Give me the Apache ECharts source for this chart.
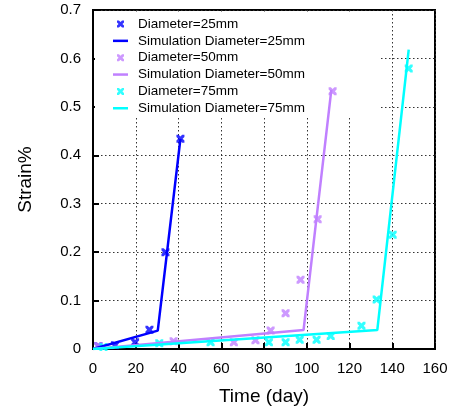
<!DOCTYPE html>
<html>
<head>
<meta charset="utf-8">
<script src="https://cdn.jsdelivr.net/npm/echarts@6/dist/echarts.min.js"></script>
<style>html,body{margin:0;padding:0;background:#fff}#c{width:451px;height:411px}</style>
</head>
<body>
<div id="c"></div>
<script>
// Measured data
const d25X = [2.5, 10.3, 19.7, 26.4, 33.9, 40.9];
const d25Y = [0.006, 0.008, 0.014, 0.040, 0.200, 0.434];
const sim25X = [0, 30.3, 40.9];
const sim25Y = [0, 0.038, 0.434];

const d50X = [2.5, 37.7, 65.9, 76.0, 83.1, 90.1, 97.1, 105.1, 112.1];
const d50Y = [0.006, 0.016, 0.014, 0.018, 0.038, 0.074, 0.143, 0.268, 0.532];
const sim50X = [0, 98.5, 111.5];
const sim50Y = [0, 0.039, 0.535];

const d75X = [4.9, 31.0, 55.0, 82.3, 90.1, 96.7, 104.6, 111.2, 125.6, 132.7, 140.2, 147.7];
const d75Y = [0.004, 0.012, 0.014, 0.014, 0.014, 0.019, 0.019, 0.027, 0.048, 0.102, 0.236, 0.579];
const sim75X = [0, 133.0, 147.7];
const sim75Y = [0, 0.039, 0.618];

const names = ['Diameter=25mm','Simulation Diameter=25mm','Diameter=50mm','Simulation Diameter=50mm','Diameter=75mm','Simulation Diameter=75mm'];
const colors = ['#0000ff','#0000ff','#c080ff','#c080ff','#00ffff','#00ffff'];

const zip = (xs, ys) => xs.map((x, i) => [x, ys[i]]);
const X = 'path://M0,0 L2.8,0 L5,2.2 L7.2,0 L10,0 L10,2.8 L7.8,5 L10,7.2 L10,10 L7.2,10 L5,7.8 L2.8,10 L0,10 L0,7.2 L2.2,5 L0,2.8 Z';

function pts(name, data, color) {
  return { name, type: 'scatter', data, symbol: X, symbolSize: 8,
    itemStyle: { color }, emphasis: { disabled: true } };
}
function ln(name, data, color) {
  return { name, type: 'line', data, symbol: 'none', showSymbol: false,
    lineStyle: { color, width: 2.5 }, itemStyle: { color }, emphasis: { disabled: true } };
}

const font = 'Liberation Sans, Arial, Helvetica, sans-serif';
// one legend per row (key entries), rows ~16.85px apart
const legends = names.map((n, i) => {
  const isPts = i % 2 === 0;
  const cy = 24 + 16.85 * i;
  return {
    orient: 'horizontal', selectedMode: false, padding: 0,
    left: isPts ? 117 : 113, top: cy - 7,
    itemWidth: isPts ? 7 : 15, itemHeight: isPts ? 7 : 2.5,
    icon: isPts ? X : 'rect',
    itemStyle: { color: colors[i] },
    textStyle: { fontSize: 13.5, color: '#000', lineHeight: 14, fontFamily: font, padding: [0, 0, 0, isPts ? 9 : 5] },
    data: [n]
  };
});

const chart = echarts.init(document.getElementById('c'), null, { renderer: 'canvas' });
chart.setOption({
  animation: false,
  backgroundColor: '#fff',
  textStyle: { fontFamily: font },
  grid: { left: 93, right: 16, top: 10, bottom: 60, show: true, borderColor: '#000', borderWidth: 2, backgroundColor: 'transparent' },
  graphic: [{ type: 'rect', left: 95, top: 14, shape: { width: 285, height: 102 }, style: { fill: '#fff' }, z: 1, silent: true }],
  legend: legends,
  xAxis: {
    type: 'value', min: 0, max: 160, interval: 20,
    name: 'Time (day)', nameLocation: 'middle', nameGap: 38,
    nameTextStyle: { fontSize: 19, color: '#000', fontFamily: font },
    axisLine: { show: true, lineStyle: { color: '#000', width: 2 } },
    axisTick: { show: true, inside: true, length: 6, lineStyle: { color: '#000', width: 2 } },
    axisLabel: { fontSize: 15, color: '#000', margin: 12, fontFamily: font },
    splitLine: { show: true, lineStyle: { color: '#333', type: [1.5, 2.5], width: 1 } }
  },
  yAxis: {
    type: 'value', min: 0, max: 0.7, interval: 0.1,
    name: 'Strain%', nameLocation: 'middle', nameGap: 58,
    nameTextStyle: { fontSize: 19, color: '#000', fontFamily: font },
    axisLine: { show: true, lineStyle: { color: '#000', width: 2 } },
    axisTick: { show: true, inside: true, length: 6, lineStyle: { color: '#000', width: 2 } },
    axisLabel: { fontSize: 15, color: '#000', margin: 12, fontFamily: font, formatter: v => String(Math.round(v * 10) / 10) },
    splitLine: { show: true, lineStyle: { color: '#333', type: [1.5, 2.5], width: 1 } }
  },
  series: [
    pts(names[0], zip(d25X, d25Y), colors[0]),
    ln(names[1], zip(sim25X, sim25Y), colors[1]),
    pts(names[2], zip(d50X, d50Y), colors[2]),
    ln(names[3], zip(sim50X, sim50Y), colors[3]),
    pts(names[4], zip(d75X, d75Y), colors[4]),
    ln(names[5], zip(sim75X, sim75Y), colors[5])
  ]
});
</script>
</body>
</html>
